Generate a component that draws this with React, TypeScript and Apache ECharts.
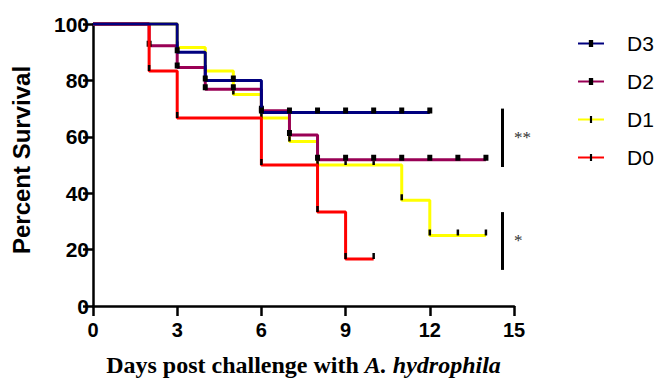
import React, { useEffect, useRef } from "react";
import * as echarts from "echarts";

const xTicks = [0, 3, 6, 9, 12, 15];
const yTicks = [0, 20, 40, 60, 80, 100];

const seriesNames = ["D3", "D2", "D1", "D0"];
const seriesColors = ["#00007f", "#990055", "#ffff00", "#ff0000"];

const daysD3 = [0, 3, 4, 5, 6, 7, 8, 9, 10, 11, 12];
const survD3 = [100, 90, 80, 80, 68.6, 68.6, 68.6, 68.6, 68.6, 68.6, 68.6];

const daysD2 = [0, 2, 3, 4, 5, 6, 7, 8, 9, 10, 11, 12, 13, 14];
const survD2 = [100, 92.3, 84.6, 76.9, 76.9, 69.2, 60.6, 51.9, 51.9, 51.9, 51.9, 51.9, 51.9, 51.9];

const daysD1 = [0, 3, 4, 5, 6, 7, 8, 9, 10, 11, 12, 13, 14];
const survD1 = [100, 91.7, 83.3, 75, 66.7, 58.3, 50, 50, 50, 37.5, 25, 25, 25];

const daysD0 = [0, 2, 3, 6, 8, 9, 10];
const survD0 = [100, 83.3, 66.7, 50, 33.3, 16.7, 16.7];

// significance brackets
const sigX = 14.57;
const sigTop = [70, 33.3];
const sigBottom = [49.3, 12.8];
const sigLabels = ["**", "*"];

// symbols drawn inside a 10x10 box (tiny corner specks keep the box square)
const SQUARE = "path://M0,0H0.01V0.01H0Z M2,0H8V10H2Z M9.99,9.99H10V10H9.99Z";
const TICK = "path://M0,0H0.01V0.01H0Z M3.5,0H6.5V10H3.5Z M9.99,9.99H10V10H9.99Z";

function toData(days: number[], surv: number[]) {
  return days.map((d, i) =>
    i === 0 ? { value: [d, surv[i]], symbol: "none" } : { value: [d, surv[i]] }
  );
}

export default function App() {
  const ref = useRef<HTMLDivElement>(null);
  useEffect(() => {
    if (!ref.current) return;
    const chart = echarts.init(ref.current, undefined, { renderer: "svg" });

    const mk = (idx: number, days: number[], surv: number[], square: boolean, z: number, extra: any = {}) => ({
      name: seriesNames[idx],
      type: "line",
      step: "end",
      data: toData(days, surv),
      symbol: square ? SQUARE : TICK,
      symbolSize: [8.3, 6],
      symbolOffset: [0, square ? -2 : -3],
      showAllSymbol: true,
      clip: false,
      z,
      lineStyle: { color: seriesColors[idx], width: 3 },
      itemStyle: { color: "#000000" },
      emphasis: { disabled: true },
      ...extra,
    });

    const option: any = {
      animation: false,
      grid: { left: 93, right: 143, top: 24, bottom: 74, containLabel: false, outerBoundsMode: "none" },
      legend: {
        data: seriesNames,
        orient: "vertical",
        left: 572,
        top: 28,
        itemWidth: 26,
        itemHeight: 9,
        itemGap: 17,
        textStyle: {
          fontFamily: "Liberation Sans, Arial",
          fontSize: 21,
          color: "#000",
          padding: [0, 0, 0, 18],
        },
      },
      xAxis: {
        type: "value",
        min: 0,
        max: 15,
        interval: 3,
        name: "Days post challenge with {i|A. hydrophila}",
        nameLocation: "middle",
        nameGap: 47,
        nameTextStyle: {
          fontFamily: "Liberation Serif, Times New Roman",
          fontWeight: "bold",
          fontSize: 24,
          color: "#000",
          rich: {
            i: {
              fontFamily: "Liberation Serif, Times New Roman",
              fontWeight: "bold",
              fontStyle: "italic",
              fontSize: 24,
              color: "#000",
            },
          },
        },
        axisLine: { lineStyle: { color: "#000", width: 2.5 } },
        axisTick: { length: 10, lineStyle: { color: "#000", width: 2.5 } },
        axisLabel: {
          margin: 14,
          fontFamily: "Liberation Sans, Arial",
          fontWeight: "bold",
          fontSize: 20,
          color: "#000",
          formatter: (v: number) => (xTicks.includes(v) ? String(v) : ""),
        },
        splitLine: { show: false },
      },
      yAxis: {
        type: "value",
        min: 0,
        max: 100,
        interval: 20,
        name: "Percent Survival",
        nameLocation: "middle",
        nameGap: 60,
        nameTextStyle: {
          fontFamily: "Liberation Sans, Arial",
          fontWeight: "bold",
          fontSize: 24,
          color: "#000",
          padding: [0, 0, 0, 10],
        },
        axisLine: { show: true, lineStyle: { color: "#000", width: 2.5 } },
        axisTick: { show: true, length: 10, lineStyle: { color: "#000", width: 2.5 } },
        axisLabel: {
          margin: 4,
          fontFamily: "Liberation Sans, Arial",
          fontWeight: "bold",
          fontSize: 21,
          color: "#000",
          formatter: (v: number) => (yTicks.includes(v) ? String(v) : ""),
        },
        splitLine: { show: false },
      },
      series: [
        mk(2, daysD1, survD1, false, 2),
        mk(1, daysD2, survD2, true, 3),
        mk(3, daysD0, survD0, false, 4),
        mk(0, daysD3, survD3, true, 5, {
          markLine: {
            silent: true,
            symbol: "none",
            animation: false,
            label: { show: false },
            lineStyle: { color: "#000", width: 3, type: "solid" },
            data: sigTop.map((t, i) => [
              { coord: [sigX, t] },
              { coord: [sigX, sigBottom[i]] },
            ]),
          },
        }),
      ],
    };
    chart.setOption(option);

    const texts: any[] = sigTop.map((t, i) => {
      const [px, py] = chart.convertToPixel({ gridIndex: 0 }, [sigX, (t + sigBottom[i]) / 2]) as number[];
      return {
        type: "text",
        x: px + 12,
        y: py,
        style: {
          text: sigLabels[i],
          font: "17px 'Liberation Serif', 'Times New Roman'",
          fill: "#333333",
          align: "left",
          verticalAlign: "middle",
        },
        z: 10,
      };
    });
    chart.setOption({ graphic: texts });

    return () => chart.dispose();
  }, []);
  return (
    <div
      ref={ref}
      style={{ position: "fixed", left: 0, top: 0, width: 657, height: 380, background: "#fff" }}
    />
  );
}
